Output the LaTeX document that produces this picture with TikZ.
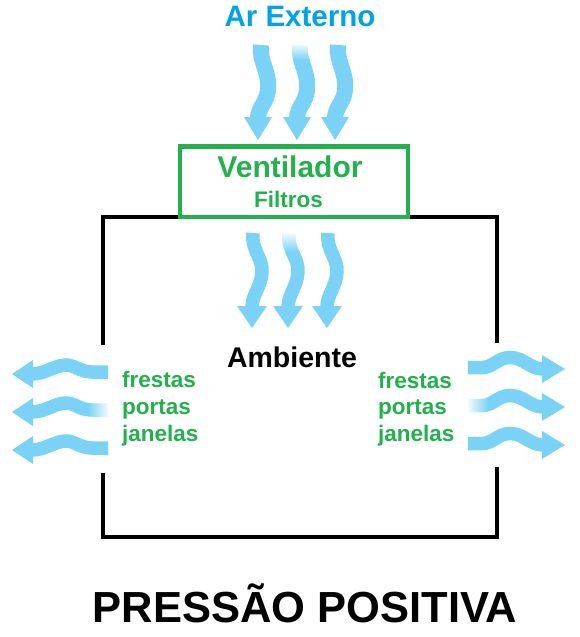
\documentclass[tikz,border=0pt]{standalone}
\usepackage{fontspec}
\setmainfont{Liberation Sans}
\usetikzlibrary{fadings}
\definecolor{airblue}{RGB}{122,210,246}
\definecolor{titleblue}{RGB}{0,162,232}
\definecolor{boxgreen}{RGB}{34,177,76}
\tikzfading[name=fadetop, top color=transparent!0, bottom color=transparent!100]
\tikzfading[name=faderight, left color=transparent!100, right color=transparent!0]
\tikzfading[name=fadeleft, left color=transparent!0, right color=transparent!100]
\tikzset{
  shaftA/.style={draw=airblue, line width=16pt, line cap=butt},
  shaftB/.style={draw=airblue, line width=13.5pt, line cap=butt},
  headfill/.style={fill=airblue},
  wall/.style={draw=black, line width=4.5pt},
  greenbox/.style={draw=boxgreen, line width=4.5pt},
  lbl/.style={anchor=base, inner sep=0pt, font=\bfseries},
  sidelbl/.style={anchor=base west, inner sep=0pt, text=boxgreen, font=\fontsize{22.5}{22.5}\selectfont\bfseries},
}
\newcommand\mytoparrow[1]{%
  \begin{scope}[shift={(#1,0)}]
    \path[shaftA] (261,45) .. controls (259,62) and (270,72) .. (268,90) .. controls (267,102) and (258,108) .. (258,118);
    \fill[headfill] (244,117) -- (272,117) -- (258,140) -- cycle;
  \end{scope}}
\newcommand\mymidarrow[1]{%
  \begin{scope}[shift={(#1,0)}]
    \path[shaftB] (253,233) .. controls (251,250) and (263,258) .. (262,272) .. controls (261,287) and (252,295) .. (252,307);
    \fill[headfill] (237,306) -- (267,306) -- (252,328) -- cycle;
  \end{scope}}
\newcommand\myleftarrow[1]{%
  \begin{scope}[shift={(0,#1)}]
    \path[shaftB] (108,372) -- (92,372) .. controls (80,372) and (75,365) .. (66,365) .. controls (55,365) and (45,374) .. (32,374);
    \fill[headfill] (33,360) -- (33,388) -- (12,374) -- cycle;
  \end{scope}}
\newcommand\myrightarrow[1]{%
  \begin{scope}[shift={(0,#1)}]
    \path[shaftB] (468,367.5) -- (482,367.5) .. controls (493,367.5) and (498,357.5) .. (510,357.5) .. controls (524,357.5) and (530,369) .. (543,369);
    \fill[headfill] (542,355) -- (542,383) -- (565,369) -- cycle;
  \end{scope}}
\begin{document}
\begin{tikzpicture}[x=1pt, y=-1pt]
\useasboundingbox[fill=white] (0,0) rectangle (580,637);
% top arrows
\mytoparrow{0}\mytoparrow{39}\mytoparrow{77}
\fill[white, path fading=fadetop] (284,42) rectangle (316,60);
% middle arrows
\mymidarrow{0}\mymidarrow{36}\mymidarrow{75}
\fill[white, path fading=fadetop] (276,231) rectangle (304,252);
% side arrows
\myleftarrow{0}\myleftarrow{38}\myleftarrow{76}
\fill[white, path fading=faderight] (88,400) rectangle (110,420);
\myrightarrow{0}\myrightarrow{38}\myrightarrow{76}
\fill[white, path fading=fadeleft] (466,395) rectangle (488,415);
% room walls
\path[wall] (103,345) -- (103,217) -- (497,217) -- (497,343);
\path[wall] (103,473) -- (103,537) -- (497,537) -- (497,467);
% ventilator box
\path[greenbox] (180,146.5) rectangle (408,217);
% texts
\node[lbl, text=titleblue, font=\fontsize{29.5}{29.5}\selectfont\bfseries] (ar) at (300,26) {Ar Externo};
\node[lbl, text=boxgreen, font=\fontsize{30}{30}\selectfont\bfseries] (vent) at (290,177) {Ventilador};
\node[lbl, text=boxgreen, font=\fontsize{22.5}{22.5}\selectfont\bfseries] (filt) at (288.5,207) {Filtros};
\node[lbl, text=black, font=\fontsize{28.5}{28.5}\selectfont\bfseries] (amb) at (292,367) {Ambiente};
\node[sidelbl] (lf) at (122,387) {frestas};
\node[sidelbl] (lp) at (122,414) {portas};
\node[sidelbl] (lj) at (122,441) {janelas};
\node[sidelbl] (rf) at (378,388) {frestas};
\node[sidelbl] (rp) at (378,414) {portas};
\node[sidelbl] (rj) at (378,441) {janelas};
\node[lbl, text=black, font=\fontsize{43.5}{43.5}\selectfont\bfseries] (title) at (305,622) {PRESSÃO POSITIVA};
\end{tikzpicture}
\end{document}
